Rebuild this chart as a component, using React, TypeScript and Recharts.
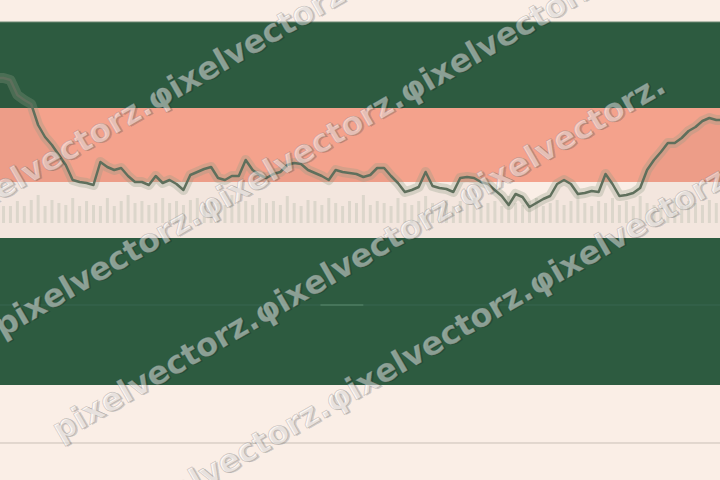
import { ComposedChart, Line, Area, Bar, XAxis, YAxis, ReferenceArea, ReferenceLine } from "recharts";

// values in chart units (0 = bottom of plot, 480 = top)
const price = [
  402, 402, 400, 385, 380, 376, 355, 343, 335, 325, 315, 300, 298, 297, 295, 318, 313, 310, 312, 304,
  298, 298, 295, 304, 297, 300, 296, 290, 305, 308, 311, 313, 302, 300, 304, 304, 320, 310, 305, 302,
  306, 308, 315, 317, 316, 310, 307, 304, 300, 310, 308, 307, 306, 303, 305, 312, 312, 304, 297, 288,
  290, 293, 308, 294, 292, 291, 288, 302, 303, 302, 298, 296, 290, 284, 275, 286, 283, 273, 277, 281,
  284, 296, 300, 296, 286, 287, 289, 288, 306, 296, 284, 285, 287, 292, 310, 320, 328, 337, 337, 342,
  349, 353, 359, 362, 360, 360,
];

const volume = [
  20, 17, 17, 22, 17, 23, 28, 17, 23, 20, 18, 25, 17, 22, 18, 17, 25, 17,
  22, 28, 20, 22, 18, 20, 25, 20, 22, 18, 23, 25, 17, 22, 20, 18, 28, 20, 22, 18, 25, 20, 22,
  18, 27, 20, 17, 23, 22, 18, 25, 20, 17, 22, 20, 28, 18, 22, 20, 17, 25, 20, 18, 22, 27, 20, 18, 23, 17, 22, 20, 25, 18,
  20, 22, 17, 27, 20, 18, 22, 25, 17, 20, 23, 18, 22, 28, 20, 17, 22, 20, 25, 18, 22, 17, 27, 20, 18, 22, 20, 25, 17, 22, 20, 18, 23, 20, 22,
];

const volumeBase = 257;

// horizontal bands [from, to]
const greenBands = [[372, 458], [95, 242]];
const salmonBand = [298, 372];

const watermarkText = "pixelvectorz.φixelvectorz.φixelvectorz.";
const watermarkStarts = [[-47, 228], [2, 338], [60, 442], [131, 530]];

const data = price.map((p, i) => ({
  i,
  price: p,
  vol: [volumeBase, volumeBase + volume[i]],
}));

function Watermark() {
  return (
    <svg width={720} height={480} style={{ position: "absolute", left: 0, top: 0, pointerEvents: "none" }}>
      {watermarkStarts.map(([x, y], k) => (
        <g key={k} transform={`rotate(-30, ${x}, ${y})`} fontFamily="DejaVu Sans" fontWeight="bold" fontSize={32}>
          <text x={x + 1.5} y={y + 1.5} fill="rgba(0,0,0,0.16)">{watermarkText}</text>
          <text x={x} y={y} fill="rgba(255,255,255,0.48)" stroke="rgba(90,90,90,0.28)" strokeWidth={0.8}>
            {watermarkText}
          </text>
        </g>
      ))}
    </svg>
  );
}

export default function App() {
  return (
    <div style={{ position: "absolute", left: 0, top: 0, width: 720, height: 480, background: "#faeee6", overflow: "hidden" }}>
      <ComposedChart width={720} height={480} data={data} margin={{ top: 0, right: 0, bottom: 0, left: 0 }}>
        <XAxis type="number" dataKey="i" domain={[0.494, 104.54]} allowDataOverflow hide />
        <YAxis type="number" domain={[0, 480]} allowDataOverflow hide />
        {greenBands.map(([a, b], k) => (
          <ReferenceArea key={k} y1={a} y2={b} fill="#2d5b40" fillOpacity={1} stroke="none" />
        ))}
        <ReferenceArea y1={salmonBand[0]} y2={salmonBand[1]} fill="#f4a28c" fillOpacity={1} stroke="none" />
        <ReferenceLine y={458} stroke="#6d8873" strokeWidth={1} />
        <ReferenceLine y={175} stroke="#386650" strokeWidth={1} />
        <ReferenceLine segment={[{ x: 46.8, y: 175 }, { x: 53, y: 175 }]} stroke="#5a8a6c" strokeWidth={1} />
        <ReferenceLine y={37} stroke="#c9bfb6" strokeWidth={1} />
        <Bar dataKey="vol" fill="#dcd6cb" barSize={3} isAnimationActive={false} />
        <Area
          type="linear"
          dataKey="price"
          baseValue={242}
          stroke="none"
          fill="#3a1a10"
          fillOpacity={0.035}
          isAnimationActive={false}
        />
        <Line
          type="linear"
          dataKey="price"
          stroke="#8f9a86"
          strokeOpacity={0.3}
          strokeWidth={10}
          strokeLinejoin="round"
          dot={false}
          activeDot={false}
          isAnimationActive={false}
        />
        <Line
          type="linear"
          dataKey="price"
          stroke="#5f6f5c"
          strokeWidth={2.5}
          strokeLinejoin="round"
          dot={false}
          activeDot={false}
          isAnimationActive={false}
        />
      </ComposedChart>
      <Watermark />
    </div>
  );
}
